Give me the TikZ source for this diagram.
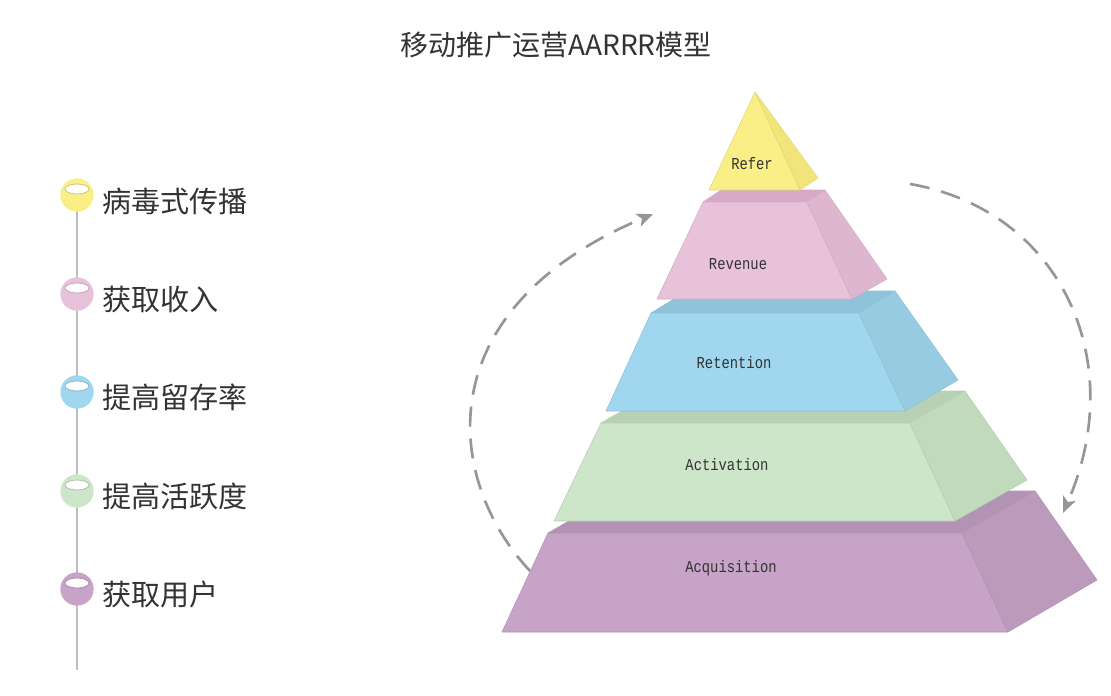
\documentclass[tikz,border=0pt]{standalone}
\usepackage{fontspec}
\setmainfont{Noto Sans CJK SC}
\newfontfamily\pyrfont[FakeStretch=0.83]{Liberation Mono}
\usetikzlibrary{arrows.meta,calc}

\definecolor{cYel}{RGB}{250,238,134}
\definecolor{cYelS}{RGB}{240,228,122}
\definecolor{cPnk}{RGB}{232,193,219}
\definecolor{cPnkT}{RGB}{214,170,198}
\definecolor{cPnkS}{RGB}{222,182,207}
\definecolor{cBlu}{RGB}{160,215,238}
\definecolor{cBluT}{RGB}{142,195,218}
\definecolor{cBluS}{RGB}{151,203,226}
\definecolor{cGrn}{RGB}{205,229,200}
\definecolor{cGrnT}{RGB}{184,208,179}
\definecolor{cGrnS}{RGB}{193,218,188}
\definecolor{cPur}{RGB}{198,163,199}
\definecolor{cPurT}{RGB}{178,147,179}
\definecolor{cPurS}{RGB}{188,154,188}
\definecolor{cTxt}{RGB}{51,51,51}
\definecolor{cArr}{RGB}{150,150,150}

\tikzset{
  face/.style={line width=0.4pt, line join=round},
  pyrlabel/.style={font=\pyrfont\fontsize{12.5}{14}\selectfont, text=cTxt, inner sep=0pt},
  item/.style={font=\fontsize{21.8}{25}\selectfont, text=cTxt, anchor=west, inner sep=0pt},
  dot/.style={circle, minimum size=25pt, inner sep=0pt},
  shine/.style={fill=white, line width=0.5pt},
  loop/.style={draw=cArr, line width=2pt, dash pattern={on 15pt off 9pt}, -{Stealth[length=12pt,width=10pt,inset=3pt]}}
}

\begin{document}
\begin{tikzpicture}[x=0.75pt,y=0.75pt,yscale=-1,xscale=1]
\path[use as bounding box] (0,0) rectangle (1111,696);

% Title
\node[font=\fontsize{21}{25}\selectfont, text=cTxt, inner sep=0pt] (title) at (556,45) {移动推广运营AARRR模型};

%Straight Lines: timeline
\coordinate (ltop) at (77,195);
\coordinate (lbot) at (77,670);
\draw[color={rgb,255:red,190;green,190;blue,190}, line width=2.2pt] (ltop) -- (lbot);

%Shape: dots
\node[dot, fill=cYel] (d1) at (77,195) {};
\node[dot, fill=cPnk] (d2) at (77,294) {};
\node[dot, fill=cBlu] (d3) at (77,392) {};
\node[dot, fill=cGrn] (d4) at (77,491) {};
\node[dot, fill=cPur] (d5) at (77,589) {};
\draw[shine, draw=cYel!80!black] (77,189) ellipse (12 and 5);
\draw[shine, draw=cPnk!80!black] (77,288) ellipse (12 and 5);
\draw[shine, draw=cBlu!80!black] (77,386) ellipse (12 and 5);
\draw[shine, draw=cGrn!80!black] (77,485) ellipse (12 and 5);
\draw[shine, draw=cPur!80!black] (77,583) ellipse (12 and 5);

% Text Node
\node[item] (t1) at (102,201) {病毒式传播};
\node[item] (t2) at (102,299) {获取收入};
\node[item] (t3) at (102,397) {提高留存率};
\node[item] (t4) at (102,496) {提高活跃度};
\node[item] (t5) at (102,594) {获取用户};

%Shape: Acquisition
\draw[face, fill=cPurT, draw=cPurT] (548,533) -- (962,533) -- (1035,491) -- (621,491) -- cycle;
\draw[face, fill=cPur, draw=cPur!90!black] (548,533) -- (962,533) -- (1008,632) -- (502,632) -- cycle;
\draw[face, fill=cPurS, draw=cPurS!95!black] (962,533) -- (1035,491) -- (1097,580) -- (1008,632) -- cycle;

%Shape: Activation
\draw[face, fill=cGrnT, draw=cGrnT] (601,423) -- (910,423) -- (965,391) -- (656,391) -- cycle;
\draw[face, fill=cGrn, draw=cGrn!90!black] (601,423) -- (910,423) -- (955,521) -- (554,521) -- cycle;
\draw[face, fill=cGrnS, draw=cGrnS!95!black] (910,423) -- (965,391) -- (1027,480) -- (955,521) -- cycle;

%Shape: Retention
\draw[face, fill=cBluT, draw=cBluT] (651,313) -- (859,313) -- (895,291) -- (687,291) -- cycle;
\draw[face, fill=cBlu, draw=cBlu!90!black] (651,313) -- (859,313) -- (905,411) -- (606,411) -- cycle;
\draw[face, fill=cBluS, draw=cBluS!95!black] (859,313) -- (895,291) -- (958,380) -- (905,411) -- cycle;

%Shape: Revenue
\draw[face, fill=cPnkT, draw=cPnkT] (703,202) -- (807,202) -- (825,190) -- (721,190) -- cycle;
\draw[face, fill=cPnk, draw=cPnk!90!black] (703,202) -- (807,202) -- (852,299) -- (657,299) -- cycle;
\draw[face, fill=cPnkS, draw=cPnkS!95!black] (807,202) -- (825,190) -- (887,279) -- (852,299) -- cycle;

%Shape: Refer
\draw[face, fill=cYel, draw=cYel!90!black] (755,92) -- (800,190) -- (709,190) -- cycle;
\draw[face, fill=cYelS, draw=cYelS!95!black] (755,92) -- (818,178) -- (800,190) -- cycle;

% Text Node
\node[pyrlabel] (refer) at (752,164) {Refer};
\node[pyrlabel] (revenue) at (738,264) {Revenue};
\node[pyrlabel] (retention) at (734,363) {Retention};
\node[pyrlabel] (activation) at (727,465) {Activation};
\node[pyrlabel] (acquisition) at (731,568) {Acquisition};

%Curve Lines: loop arrows
\coordinate (la) at (530,571);
\coordinate (lb) at (653,214);
\coordinate (ra) at (910,184);
\coordinate (rb) at (1063,513);
\draw[loop] (la) .. controls (445,480) and (425,310) .. (lb);
\draw[loop] (ra) .. controls (1060,210) and (1130,360) .. (rb);

\end{tikzpicture}
\end{document}
